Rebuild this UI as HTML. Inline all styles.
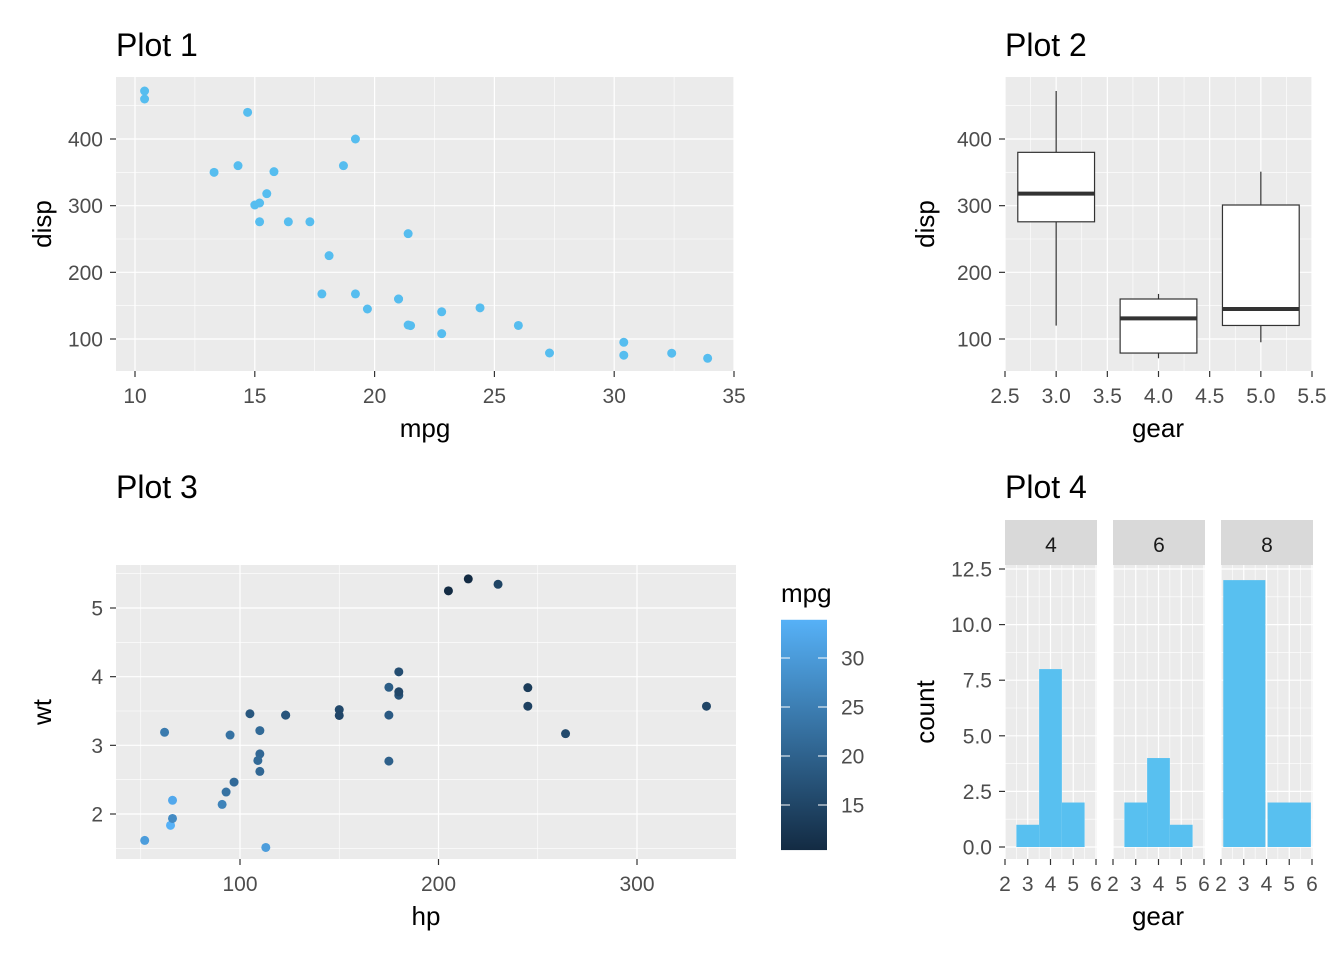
<!DOCTYPE html>
<html><head><meta charset="utf-8"><style>
html,body{margin:0;padding:0;background:#fff;}
svg{display:block;font-family:"Liberation Sans",Arial,sans-serif;}
</style></head><body>
<svg id="chart" width="1344" height="960" viewBox="0 0 1344 960" xmlns="http://www.w3.org/2000/svg"></svg>
<script>
const mpg=[21,21,22.8,21.4,18.7,18.1,14.3,24.4,22.8,19.2,17.8,16.4,17.3,15.2,10.4,10.4,14.7,32.4,30.4,33.9,21.5,15.5,15.2,13.3,19.2,27.3,26,30.4,15.8,19.7,15,21.4];
const disp=[160,160,108,258,360,225,360,146.7,140.8,167.6,167.6,275.8,275.8,275.8,472,460,440,78.7,75.7,71.1,120.1,318,304,350,400,79,120.3,95.1,351,145,301,121];
const hp=[110,110,93,110,175,105,245,62,95,123,123,180,180,180,205,215,230,66,52,65,97,150,150,245,175,66,91,113,264,175,335,109];
const wt=[2.62,2.875,2.32,3.215,3.44,3.46,3.57,3.19,3.15,3.44,3.44,4.07,3.73,3.78,5.25,5.424,5.345,2.2,1.615,1.835,2.465,3.52,3.435,3.84,3.845,1.935,2.14,1.513,3.17,2.77,3.57,2.78];
const gear=[4,4,4,3,3,3,3,4,4,4,4,3,3,3,3,3,3,4,4,4,3,3,3,3,3,4,5,5,5,5,5,4];
const gearLevels=[3,4,5];
// Plot 4 histogram bins per cyl facet (as drawn in the reference)
const cylLevels=[4,6,8];
const binLeft4=[2.5,3.5,4.5], binRight4=[3.5,4.5,5.5], counts4=[1,8,2];
const binLeft6=[2.5,3.5,4.5], binRight6=[3.5,4.5,5.5], counts6=[2,4,1];
const binLeft8=[2.1,4.05], binRight8=[3.95,5.95], counts8=[12,2];

const svg=document.getElementById('chart');
const NS='http://www.w3.org/2000/svg';
function el(tag,attrs,parent){const e=document.createElementNS(NS,tag);for(const k in attrs)e.setAttribute(k,attrs[k]);(parent||svg).appendChild(e);return e;}
function txt(s,attrs){const e=el('text',attrs);e.textContent=s;return e;}
const LBL='#4D4D4D', PT='#56BDEF';
const TK=21, AT=26, TT=32;

function panel(name,x0,x1,y0,y1,sx,sy,xMaj,xMin,yMaj,yMin){
  const r=el('rect',{x:x0,y:y0,width:x1-x0,height:y1-y0,fill:'#EBEBEB'});
  
  
  xMin.forEach(v=>{const l=el('line',{x1:sx(v),x2:sx(v),y1:y0,y2:y1,stroke:'#fff','stroke-width':0.6});});
  yMin.forEach(v=>{const l=el('line',{y1:sy(v),y2:sy(v),x1:x0,x2:x1,stroke:'#fff','stroke-width':0.6});});
  xMaj.forEach(v=>{const l=el('line',{x1:sx(v),x2:sx(v),y1:y0,y2:y1,stroke:'#fff','stroke-width':1.2});});
  yMaj.forEach(v=>{const l=el('line',{y1:sy(v),y2:sy(v),x1:x0,x2:x1,stroke:'#fff','stroke-width':1.2});});
}
function xTicks(vals,labels,sx,y1){vals.forEach((v,i)=>{
  const l=el('line',{x1:sx(v),x2:sx(v),y1:y1,y2:y1+6,stroke:'#333','stroke-width':1.2});
  const t=txt(labels[i],{x:sx(v),y:y1+32,'text-anchor':'middle','font-size':TK,fill:LBL});});}
function yTicks(vals,labels,sy,x0){vals.forEach((v,i)=>{
  const l=el('line',{x1:x0-6,x2:x0,y1:sy(v),y2:sy(v),stroke:'#333','stroke-width':1.2});
  const t=txt(labels[i],{x:x0-13,y:sy(v)+7.5,'text-anchor':'end','font-size':TK,fill:LBL});});}
function title(s,x,y,n){const t=txt(s,{x:x,y:y,'font-size':TT,fill:'#000'});}
function xTitle(s,x,y,n){const t=txt(s,{x:x,y:y,'text-anchor':'middle','font-size':AT,fill:'#000'});}
function yTitle(s,x,y,n){const t=txt(s,{x:0,y:0,'text-anchor':'middle','font-size':AT,fill:'#000',transform:`translate(${x},${y}) rotate(-90)`});}

// ---- Plot 1
const dispY=v=>139+(400-v)*(200/300);
const p1x=v=>135+(v-10)*(599/25);
panel('plot1',116,734,77,371,p1x,dispY,[10,15,20,25,30,35],[12.5,17.5,22.5,27.5,32.5],[100,200,300,400],[150,250,350,450]);
mpg.forEach((m,i)=>{const c=el('circle',{cx:p1x(m),cy:dispY(disp[i]),r:4.5,fill:PT});});
xTicks([10,15,20,25,30,35],['10','15','20','25','30','35'],p1x,371);
yTicks([100,200,300,400],['100','200','300','400'],dispY,116);
title('Plot 1',116,56,'plot1-title');xTitle('mpg',425,437,'x-axis-title');yTitle('disp',51,224,'y-axis-title');

// ---- Plot 2
const p2x=v=>1005+(v-2.5)*(307/3);
panel('plot2',1005,1312,77,371,p2x,dispY,[2.5,3,3.5,4,4.5,5,5.5],[2.75,3.25,3.75,4.25,4.75,5.25],[100,200,300,400],[150,250,350,450]);
gearLevels.forEach(g=>{
  const v=disp.filter((d,i)=>gear[i]===g).sort((a,b)=>a-b);
  const q=p=>{const h=(v.length-1)*p,lo=Math.floor(h);return v[lo]+(h-lo)*((v[lo+1]??v[lo])-v[lo]);};
  const q1=q(.25),q2=q(.5),q3=q(.75),iqr=q3-q1;
  const lo=Math.min(...v.filter(d=>d>=q1-1.5*iqr)),hi=Math.max(...v.filter(d=>d<=q3+1.5*iqr));
  const l1=el('line',{x1:p2x(g),x2:p2x(g),y1:dispY(hi),y2:dispY(q3),stroke:'#333','stroke-width':1.2});
  const l2=el('line',{x1:p2x(g),x2:p2x(g),y1:dispY(q1),y2:dispY(lo),stroke:'#333','stroke-width':1.2});
  const b=el('rect',{x:p2x(g-0.375),y:dispY(q3),width:p2x(g+0.375)-p2x(g-0.375),height:dispY(q1)-dispY(q3),fill:'#fff',stroke:'#333','stroke-width':1.2});
  const m=el('line',{x1:p2x(g-0.375),x2:p2x(g+0.375),y1:dispY(q2),y2:dispY(q2),stroke:'#333','stroke-width':4});
});
xTicks([2.5,3,3.5,4,4.5,5,5.5],['2.5','3.0','3.5','4.0','4.5','5.0','5.5'],p2x,371);
yTicks([100,200,300,400],['100','200','300','400'],dispY,1005);
title('Plot 2',1005,56,'plot2-title');xTitle('gear',1158,437,'x-axis-title');yTitle('disp',934,224,'y-axis-title');

// ---- Plot 3
const p3x=v=>240+(v-100)*(397/200);
const p3y=v=>608+(5-v)*(206/3);
panel('plot3',116,736,565,859,p3x,p3y,[100,200,300],[50,150,250],[2,3,4,5],[1.5,2.5,3.5,4.5,5.5]);
const lo=[0x13,0x2B,0x43],hi=[0x56,0xB1,0xF7];
const mn=Math.min(...mpg),mx=Math.max(...mpg);
const col=m=>{const t=(m-mn)/(mx-mn);return 'rgb('+lo.map((c,k)=>Math.round(c+(hi[k]-c)*t)).join(',')+')';};
hp.forEach((h,i)=>{const c=el('circle',{cx:p3x(h),cy:p3y(wt[i]),r:4.5,fill:col(mpg[i])});});
xTicks([100,200,300],['100','200','300'],p3x,859);
yTicks([2,3,4,5],['2','3','4','5'],p3y,116);
title('Plot 3',116,498,'plot3-title');xTitle('hp',426,925,'x-axis-title');yTitle('wt',51,712,'y-axis-title');
const defs=el('defs',{});const g=el('linearGradient',{id:'lg',x1:0,y1:1,x2:0,y2:0},defs);
el('stop',{offset:0,'stop-color':'#132B43'},g);el('stop',{offset:1,'stop-color':'#56B1F7'},g);
const lgY=v=>805-(v-15)*(147/15);
const cb=el('rect',{x:781,y:lgY(mx),width:46,height:lgY(mn)-lgY(mx),fill:'url(#lg)'});
[15,20,25,30].forEach(v=>{
  el('line',{x1:781,x2:790,y1:lgY(v),y2:lgY(v),stroke:'#fff','stroke-width':1});el('line',{x1:818,x2:827,y1:lgY(v),y2:lgY(v),stroke:'#fff','stroke-width':1});
  const t=txt(String(v),{x:841,y:lgY(v)+7.5,'font-size':TK,fill:LBL});});
{const t=txt('mpg',{x:781,y:602,'font-size':AT,fill:'#000'});}

// ---- Plot 4
const p4y=v=>847-v*(278/12.5);
const facetX=[1005,1113,1221];
const bins=[[binLeft4,binRight4,counts4],[binLeft6,binRight6,counts6],[binLeft8,binRight8,counts8]];
cylLevels.forEach((c,fi)=>{
  const x0=facetX[fi],sx=v=>x0+(v-2)*(91/4);
  const st=el('rect',{x:x0,y:520,width:92,height:45,fill:'#D9D9D9'});
  const stt=txt(String(c),{x:x0+46,y:552,'text-anchor':'middle','font-size':TK,fill:'#1A1A1A'});
  panel('plot4-facet-'+c,x0,x0+92,565,859,sx,p4y,[2,3,4,5,6],[2.5,3.5,4.5,5.5],[0,2.5,5,7.5,10,12.5],[1.25,3.75,6.25,8.75,11.25]);
  const [L,R,N]=bins[fi];
  N.forEach((n,k)=>{
    const b=el('rect',{x:sx(L[k]),y:p4y(n),width:sx(R[k])-sx(L[k]),height:p4y(0)-p4y(n),fill:'#58C0F0'});
    
    
  });
  xTicks([2,3,4,5,6],['2','3','4','5','6'],sx,859);
});
yTicks([0,2.5,5,7.5,10,12.5],['0.0','2.5','5.0','7.5','10.0','12.5'],p4y,1005);
title('Plot 4',1005,498,'plot4-title');xTitle('gear',1158,925,'x-axis-title');yTitle('count',934,712,'y-axis-title');
</script>
</body></html>
